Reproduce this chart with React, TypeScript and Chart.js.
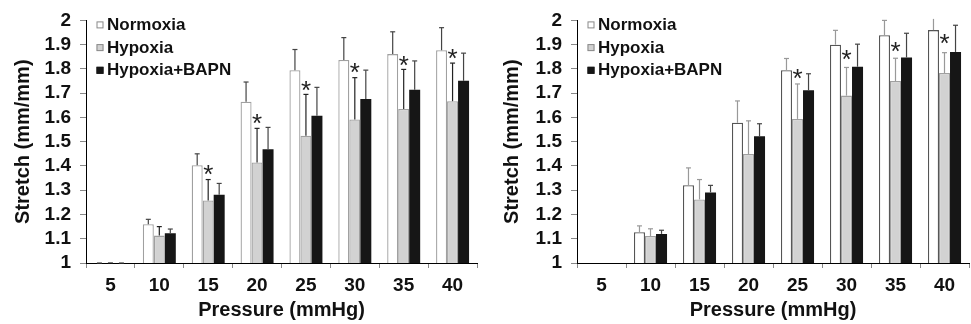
import React, { useEffect, useRef } from 'react';
import { Chart, registerables } from 'chart.js';
Chart.register(...registerables);

// ---- data ----
const pressures = ['5', '10', '15', '20', '25', '30', '35', '40'];
const seriesNames = ['Normoxia', 'Hypoxia', 'Hypoxia+BAPN'];

// Left panel
const normoxiaA = [1.0, 1.16, 1.403, 1.665, 1.795, 1.837, 1.861, 1.877];
const normoxiaErrA = [0, 0.02, 0.047, 0.081, 0.085, 0.092, 0.092, 0.093];
const hypoxiaA = [1.0, 1.113, 1.258, 1.414, 1.525, 1.592, 1.635, 1.667];
const hypoxiaErrA = [0, 0.037, 0.086, 0.141, 0.17, 0.172, 0.163, 0.157];
const bapnA = [1.0, 1.123, 1.281, 1.469, 1.607, 1.676, 1.714, 1.751];
const bapnErrA = [0, 0.017, 0.047, 0.09, 0.117, 0.119, 0.119, 0.114];
const starsA = [null, null, 1.383, 1.594, 1.731, 1.802, 1.833, 1.861];

// Right panel
const normoxiaB = [null, 1.127, 1.321, 1.578, 1.795, 1.9, 1.939, 1.96];
const normoxiaErrB = [null, 0.026, 0.071, 0.09, 0.048, 0.059, 0.061, 0.06];
const hypoxiaB = [null, 1.111, 1.262, 1.449, 1.594, 1.69, 1.75, 1.783];
const hypoxiaErrB = [null, 0.03, 0.082, 0.137, 0.144, 0.116, 0.094, 0.084];
const bapnB = [null, 1.12, 1.291, 1.522, 1.712, 1.809, 1.847, 1.87];
const bapnErrB = [null, 0.015, 0.029, 0.052, 0.068, 0.093, 0.1, 0.11];
const starsB = [null, null, null, null, 1.781, 1.858, 1.892, 1.925];

const FONT = "'Liberation Sans', Arial, Helvetica, sans-serif";

type PanelProps = {
  values: (number | null)[][];
  errors: (number | null)[][];
  stars: (number | null)[];
  width: number;
  axisWidth: number;
  padRight: number;
  titlePad: number;
  errColors: string[];
  borderColors: string[];
};

const fills = ['#ffffff', '#d2d2d2', '#161616'];

const errorBarPlugin = {
  id: 'errorBars',
  afterDatasetsDraw(chart: any) {
    const opts = chart.options.plugins.errorBars;
    const { ctx, chartArea } = chart;
    const yScale = chart.scales.y;
    ctx.save();
    chart.data.datasets.forEach((ds: any, i: number) => {
      const meta = chart.getDatasetMeta(i);
      const errs = opts.errors[i];
      meta.data.forEach((el: any, j: number) => {
        const v = ds.data[j];
        const e = errs[j];
        if (v == null || e == null) return;
        const x = el.x;
        const y0 = yScale.getPixelForValue(v);
        const y1 = yScale.getPixelForValue(v + e);
        ctx.strokeStyle = opts.colors[i];
        ctx.lineWidth = 1.2;
        ctx.beginPath();
        ctx.moveTo(x, y0);
        ctx.lineTo(x, Math.max(y1, chartArea.top - 1.5));
        ctx.stroke();
        if (y1 >= chartArea.top - 1) {
          ctx.beginPath();
          ctx.moveTo(x - 2.5, y1);
          ctx.lineTo(x + 2.5, y1);
          ctx.stroke();
        }
      });
    });
    // asterisks above Hypoxia bars
    const hMeta = chart.getDatasetMeta(1);
    ctx.fillStyle = '#222';
    ctx.font = `26px ${FONT}`;
    ctx.textAlign = 'center';
    ctx.textBaseline = 'alphabetic';
    const m = ctx.measureText('*');
    const asc = m.actualBoundingBoxAscent;
    const desc = m.actualBoundingBoxDescent;
    opts.stars.forEach((s: number | null, j: number) => {
      if (s == null) return;
      const el = hMeta.data[j];
      const yc = yScale.getPixelForValue(s);
      ctx.fillText('*', el.x, yc + (asc - desc) / 2);
    });
    ctx.restore();
  },
};

const legendPlugin = {
  id: 'innerLegend',
  afterDraw(chart: any) {
    const { ctx, chartArea } = chart;
    ctx.save();
    chart.data.datasets.forEach((ds: any, i: number) => {
      const yc = chartArea.top + 4.5 + i * 22.7;
      const bx = chartArea.left + 10.5;
      ctx.fillStyle = ds.backgroundColor;
      ctx.fillRect(bx, yc - 3.5, 7, 7);
      ctx.strokeStyle = i === 2 ? ds.backgroundColor : '#8a8a8a';
      ctx.lineWidth = 1;
      ctx.strokeRect(bx + 0.5, yc - 3, 6, 6);
      ctx.fillStyle = '#111';
      ctx.font = `bold 17px ${FONT}`;
      ctx.textAlign = 'left';
      ctx.textBaseline = 'middle';
      ctx.fillText(ds.label, chartArea.left + 21, yc + 0.5);
    });
    ctx.restore();
  },
};

function Panel(p: PanelProps) {
  const ref = useRef<HTMLCanvasElement | null>(null);
  useEffect(() => {
    if (!ref.current) return;
    const chart = new Chart(ref.current, {
      type: 'bar',
      data: {
        labels: pressures,
        datasets: seriesNames.map((name, i) => ({
          label: name,
          data: p.values[i],
          backgroundColor: fills[i],
          borderColor: p.borderColors[i],
          borderWidth: i === 2 ? 0 : 1.3,
          borderSkipped: 'bottom',
        })),
      },
      options: {
        responsive: false,
        animation: false,
        devicePixelRatio: 1,
        layout: { padding: { left: 0, right: p.padRight, top: 19, bottom: 0 } },
        datasets: { bar: { categoryPercentage: 0.675, barPercentage: 1 } },
        plugins: {
          legend: { display: false },
          tooltip: { enabled: false },
          errorBars: { errors: p.errors, stars: p.stars, colors: p.errColors },
        } as any,
        scales: {
          x: {
            grid: {
              display: true,
              drawOnChartArea: false,
              drawTicks: true,
              tickLength: 5,
              tickColor: '#888',
              offset: true,
            },
            border: { display: true, color: '#000', width: 1 },
            ticks: { font: { family: FONT, size: 19, weight: 'bold' }, color: '#111', padding: 6 },
            title: {
              display: true,
              text: 'Pressure (mmHg)',
              font: { family: FONT, size: 20, weight: 'bold' },
              color: '#111',
              padding: { top: 0, bottom: 2 },
            },
            afterFit: (s: any) => {
              s.height = 61;
            },
          },
          y: {
            min: 1,
            max: 2,
            ticks: {
              stepSize: 0.1,
              autoSkip: false,
              callback: (v: any) => String(Math.round(Number(v) * 10) / 10),
              font: { family: FONT, size: 19, weight: 'bold' },
              color: '#111',
              padding: 9,
            },
            grid: { display: true, drawOnChartArea: false, tickLength: 6, tickColor: '#888' },
            border: { display: true, color: '#000', width: 1 },
            title: {
              display: true,
              text: 'Stretch (mm/mm)',
              font: { family: FONT, size: 20, weight: 'bold' },
              color: '#111',
              padding: { top: p.titlePad, bottom: 0 },
            },
            afterFit: (s: any) => {
              s.width = p.axisWidth;
            },
          },
        },
      } as any,
      plugins: [errorBarPlugin, legendPlugin],
    });
    return () => chart.destroy();
  }, []);
  return <canvas ref={ref} width={p.width} height={324} style={{ display: 'block', width: p.width, height: 324 }} />;
}

export default function App() {
  return (
    <div style={{ position: 'fixed', left: 0, top: 0, width: 971, height: 324, background: '#fff', display: 'flex' }}>
      <Panel
        values={[normoxiaA, hypoxiaA, bapnA]}
        errors={[normoxiaErrA, hypoxiaErrA, bapnErrA]}
        stars={starsA}
        width={485}
        axisWidth={86}
        padRight={8}
        titlePad={11}
        errColors={['#444', '#222', '#444']}
        borderColors={['#a0a0a0', '#a0a0a0', '#161616']}
      />
      <Panel
        values={[normoxiaB, hypoxiaB, bapnB]}
        errors={[normoxiaErrB, hypoxiaErrB, bapnErrB]}
        stars={starsB}
        width={486}
        axisWidth={92}
        padRight={2}
        titlePad={15}
        errColors={['#999', '#999', '#444']}
        borderColors={['#555', '#a0a0a0', '#161616']}
      />
    </div>
  );
}
